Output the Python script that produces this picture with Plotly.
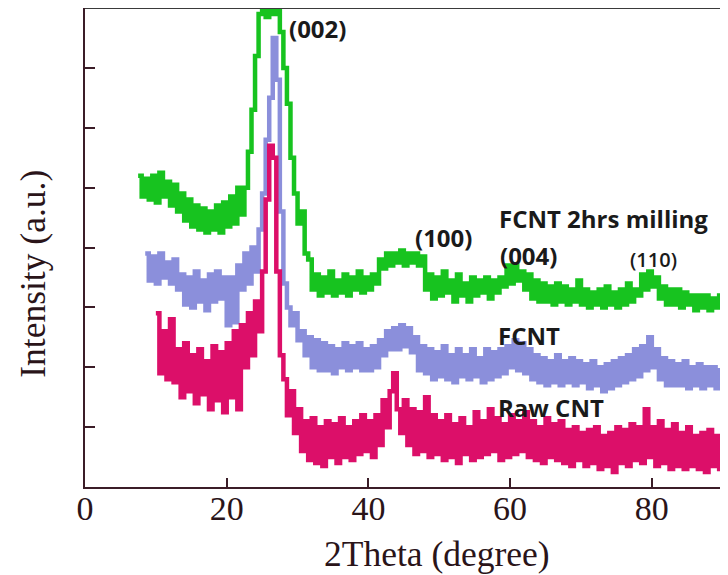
import numpy as np
import plotly.graph_objects as go

# ---- data (2theta grids in degrees, intensities in arbitrary units) ----
theta_start_milled = 7.5
theta_start_fcnt = 8.5
theta_start_raw = 10.0
theta_step = 0.5

milled = [
    5.2, 4.85, 5.15, 4.8, 5.2, 4.75, 5.25, 4.85, 5.1, 4.7,
    5.05, 4.6, 4.9, 4.45, 4.8, 4.35, 4.7, 4.3, 4.65, 4.25,
    4.6, 4.3, 4.7, 4.25, 4.75, 4.35, 4.85, 4.4, 5.0, 4.55,
    5.0, 5.6, 6.3, 7.2, 7.9, 7.95, 7.85, 7.95, 7.9, 7.95,
    7.6, 7.0, 6.4, 5.5, 4.9, 4.4, 4.6, 3.9, 3.8, 3.3,
    3.55, 3.2, 3.5, 3.25, 3.6, 3.2, 3.45, 3.25, 3.55, 3.2,
    3.5, 3.3, 3.6, 3.25, 3.5, 3.3, 3.55, 3.4, 3.8, 3.65,
    3.9, 3.7, 3.9, 3.75, 3.95, 3.7, 3.9, 3.75, 3.9, 3.7,
    3.85, 3.3, 3.55, 3.15, 3.5, 3.2, 3.6, 3.25, 3.45, 3.1,
    3.55, 3.2, 3.4, 3.1, 3.5, 3.2, 3.45, 3.25, 3.5, 3.15,
    3.45, 3.25, 3.5, 3.35, 3.7, 3.4, 3.7, 3.45, 3.6, 3.3,
    3.55, 3.15, 3.45, 3.1, 3.4, 3.1, 3.35, 3.05, 3.4, 3.1,
    3.35, 3.05, 3.3, 3.1, 3.45, 3.05, 3.3, 3.0, 3.25, 3.05,
    3.3, 3.0, 3.35, 3.05, 3.25, 3.0, 3.3, 3.05, 3.4, 3.1,
    3.3, 3.2, 3.55, 3.3, 3.6, 3.35, 3.5, 3.15, 3.35, 3.05,
    3.3, 3.05, 3.3, 3.0, 3.25, 3.05, 3.2, 2.95, 3.2, 3.0,
    3.2, 2.95, 3.15, 3.0, 3.2, 2.95, 3.1,
]

fcnt = [
    3.9, 3.45, 3.85, 3.4, 3.9, 3.5, 3.75, 3.4, 3.8, 3.3,
    3.55, 3.05, 3.5, 3.0, 3.6, 3.1, 3.45, 2.95, 3.55, 3.1,
    3.6, 3.15, 3.5, 2.7, 3.5, 2.75, 3.7, 3.3, 3.9, 3.4,
    4.0, 3.6, 4.3, 4.9, 5.8, 6.5, 7.5, 6.8, 4.6, 3.4,
    3.0, 2.7, 2.9, 2.45, 2.6, 2.2, 2.5, 2.0, 2.45, 1.95,
    2.4, 1.95, 2.35, 1.9, 2.3, 2.0, 2.4, 1.95, 2.35, 2.0,
    2.4, 1.95, 2.3, 1.95, 2.35, 2.0, 2.45, 2.2, 2.6, 2.3,
    2.65, 2.3, 2.7, 2.35, 2.65, 2.25, 2.5, 1.95, 2.35, 1.9,
    2.3, 1.8, 2.25, 1.85, 2.35, 1.8, 2.2, 1.75, 2.3, 1.85,
    2.2, 1.8, 2.3, 1.85, 2.15, 1.75, 2.3, 1.8, 2.25, 1.85,
    2.3, 1.9, 2.35, 2.0, 2.45, 1.95, 2.4, 1.9, 2.3, 1.8,
    2.2, 1.75, 2.15, 1.7, 2.1, 1.75, 2.2, 1.7, 2.1, 1.75,
    2.15, 1.7, 2.1, 1.75, 2.05, 1.65, 2.1, 1.7, 2.0, 1.6,
    2.05, 1.65, 2.1, 1.7, 2.15, 1.75, 2.2, 1.8, 2.3, 1.85,
    2.35, 1.95, 2.5, 2.0, 2.3, 1.8, 2.15, 1.7, 2.1, 1.7,
    2.05, 1.7, 2.1, 1.65, 2.0, 1.7, 2.05, 1.65, 2.0, 1.7,
    2.0, 1.65, 1.95, 1.7, 2.0,
]

raw = [
    2.9, 1.9, 2.6, 1.8, 2.8, 1.75, 2.3, 1.5, 2.4, 1.6,
    2.2, 1.4, 2.3, 1.55, 2.1, 1.3, 2.35, 1.45, 2.25, 1.25,
    2.4, 1.5, 2.6, 1.3, 2.7, 2.0, 2.9, 2.2, 3.1, 2.6,
    3.6, 4.8, 5.7, 5.5, 3.6, 2.2, 1.8, 1.2, 1.6, 0.9,
    1.3, 0.6, 1.1, 0.45, 1.15, 0.4, 1.0, 0.35, 1.1, 0.5,
    1.05, 0.4, 1.15, 0.5, 1.0, 0.45, 1.1, 0.55, 1.2, 0.6,
    1.1, 0.5, 1.2, 0.7, 1.45, 1.0, 1.6, 1.9, 1.3, 0.9,
    1.45, 0.7, 1.3, 0.55, 1.25, 0.6, 1.5, 0.5, 1.2, 0.55,
    1.1, 0.45, 1.2, 0.5, 1.05, 0.4, 1.15, 0.55, 1.0, 0.45,
    1.25, 0.5, 1.1, 0.55, 1.3, 0.6, 1.15, 0.45, 1.05, 0.5,
    1.2, 0.55, 1.1, 0.6, 1.25, 0.5, 1.1, 0.45, 1.0, 0.4,
    1.15, 0.5, 1.05, 0.45, 1.1, 0.4, 0.95, 0.35, 1.0, 0.45,
    0.9, 0.35, 0.95, 0.4, 1.0, 0.3, 0.85, 0.35, 0.9, 0.25,
    1.0, 0.4, 0.95, 0.35, 1.05, 0.45, 1.0, 0.4, 1.3, 0.5,
    1.0, 0.35, 1.1, 0.4, 0.95, 0.3, 1.05, 0.35, 0.9, 0.3,
    1.0, 0.35, 0.85, 0.3, 0.9, 0.25, 0.95, 0.35, 0.85, 0.3,
    0.7,
]

x_ticks = [0, 20, 40, 60, 80]
y_ticks = [1, 2, 3, 4, 5, 6, 7]

series_names = ["FCNT 2hrs milling", "FCNT", "Raw CNT"]
peak_labels = ["(002)", "(100)", "(004)", "(110)"]


def grid(start, values):
    return [round(start + theta_step * i, 3) for i in range(len(values))]


GREEN = "#17c31f"
LAV = "#8b8fdb"
PINK = "#dc0f69"
AXIS = "#3b1d28"
TXT = "#2a1419"

fig = go.Figure()
for start, vals, color, name in [
    (theta_start_milled, milled, GREEN, series_names[0]),
    (theta_start_fcnt, fcnt, LAV, series_names[1]),
    (theta_start_raw, raw, PINK, series_names[2]),
]:
    fig.add_trace(go.Scatter(
        x=grid(start, vals), y=vals, mode="lines", name=name,
        line=dict(color=color, width=4.5, shape="hv"),
        showlegend=False, hoverinfo="skip",
    ))

label_font = dict(family="Open Sans, DejaVu Sans, sans-serif", size=24, color="#1a1a1a", weight="bold")
ann = []
ann.append(dict(text=series_names[0], x=0.806, y=0.561, xanchor="center", yanchor="middle"))
ann.append(dict(text=series_names[1], x=0.690, y=0.317, xanchor="center", yanchor="middle"))
ann.append(dict(text=series_names[2], x=0.725, y=0.165, xanchor="center", yanchor="middle"))
ann.append(dict(text=peak_labels[0], x=0.362, y=0.958, xanchor="center", yanchor="middle"))
ann.append(dict(text=peak_labels[1], x=0.557, y=0.520, xanchor="center", yanchor="middle"))
ann.append(dict(text=peak_labels[2], x=0.689, y=0.484, xanchor="center", yanchor="middle"))
annotations = []
for a in ann:
    a.update(xref="paper", yref="paper", showarrow=False, font=label_font)
    annotations.append(a)
annotations.append(dict(text=peak_labels[3], x=0.884, y=0.474, xref="paper", yref="paper",
                        xanchor="center", yanchor="middle", showarrow=False,
                        font=dict(family="Open Sans, DejaVu Sans, sans-serif", size=20,
                                  color="#1a1a1a", weight=600)))
title_font = dict(family="Liberation Serif, Times New Roman, serif", size=35.5, color=TXT)
annotations.append(dict(text="Intensity (a.u.)", x=-0.081, y=0.445, xref="paper", yref="paper",
                        textangle=-90, showarrow=False, xanchor="center", yanchor="middle",
                        font=title_font))
annotations.append(dict(text="2Theta (degree)", x=0.547, y=-0.14, xref="paper", yref="paper",
                        showarrow=False, xanchor="center", yanchor="middle", font=title_font))

fig.update_layout(
    width=728, height=575,
    margin=dict(l=77, r=8, t=0, b=96),
    paper_bgcolor="white", plot_bgcolor="white",
    annotations=annotations,
    shapes=[dict(type="line", xref="paper", yref="paper", x0=0, x1=1, y0=1, y1=1,
                 line=dict(color="#3a3a3a", width=2))],
    xaxis=dict(range=[0, 90.75], tickvals=x_ticks, ticks="inside", ticklen=9, tickwidth=2,
               tickcolor=AXIS, showline=True, linecolor=AXIS, linewidth=2,
               showgrid=False, zeroline=False, automargin=False, ticklabelstandoff=-10,
               tickfont=dict(family="Liberation Serif, Times New Roman, serif", size=34, color=TXT)),
    yaxis=dict(range=[0, 8], tickvals=y_ticks, ticks="inside", ticklen=10, tickwidth=2,
               tickcolor=AXIS, showline=True, linecolor=AXIS, linewidth=2, automargin=False,
               showticklabels=False, showgrid=False, zeroline=False),
)

fig.write_html("out.html")
